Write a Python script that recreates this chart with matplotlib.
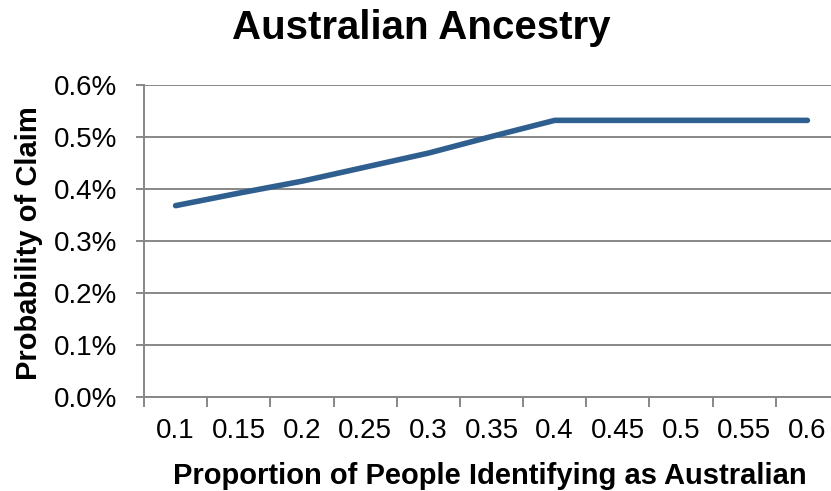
import matplotlib
matplotlib.use('Agg')
import matplotlib.pyplot as plt
import numpy as np

# ---------------- DATA ----------------
proportions = ['0.1', '0.15', '0.2', '0.25', '0.3', '0.35', '0.4', '0.45', '0.5', '0.55', '0.6']
prob_claim = [0.368, 0.392, 0.415, 0.442, 0.469, 0.501, 0.532, 0.532, 0.532, 0.532, 0.532]  # percent
y_ticks = [0.0, 0.1, 0.2, 0.3, 0.4, 0.5, 0.6]

plt.rcParams['font.family'] = ['Liberation Sans', 'DejaVu Sans']

fig = plt.figure(figsize=(8.31, 4.91), dpi=100)
W, H = 831, 491
ax = fig.add_axes([144 / W, 94 / H, 695 / W, 312 / H])

grid_col = '#878787'
x = np.arange(len(proportions))
ax.plot(x, prob_claim, color='#2F5F8F', linewidth=4.0, solid_capstyle='round',
        solid_joinstyle='round', zorder=3)

ax.set_xlim(-0.5, len(proportions) - 0.5)
ax.set_ylim(0, 0.6)

# y axis
ax.set_yticks(y_ticks)
ax.set_yticklabels([f'{v:.1f}%' for v in y_ticks], fontsize=20)
ax.yaxis.grid(True, color=grid_col, linewidth=1.4)
ax.set_axisbelow(True)

# x axis: labels at category centres, tick marks between categories
ax.set_xticks(x)
ax.set_xticklabels(proportions, fontsize=20)
ax.tick_params(axis='x', which='major', length=0, pad=15)
ax.set_xticks(np.arange(len(proportions) + 1) - 0.5, minor=True)
ax.tick_params(axis='x', which='minor', length=7, width=1.4, color=grid_col, direction='out')
ax.tick_params(axis='y', length=6, width=1.4, color=grid_col, pad=13)

for s in ['top', 'right']:
    ax.spines[s].set_visible(False)
for s in ['left', 'bottom']:
    ax.spines[s].set_color(grid_col)
    ax.spines[s].set_linewidth(1.4)

fig.text(421 / W, 1 - 39 / H, 'Australian Ancestry', ha='center', va='baseline',
         fontsize=29, fontweight='bold')
fig.text(490 / W, 1 - 484 / H, 'Proportion of People Identifying as Australian',
         ha='center', va='baseline', fontsize=21, fontweight='bold')
fig.text(37 / W, 1 - 243 / H, 'Probability of Claim', ha='center', va='baseline',
         rotation=90, rotation_mode='anchor', fontsize=21, fontweight='bold')

fig.savefig('out.png', dpi=100)
